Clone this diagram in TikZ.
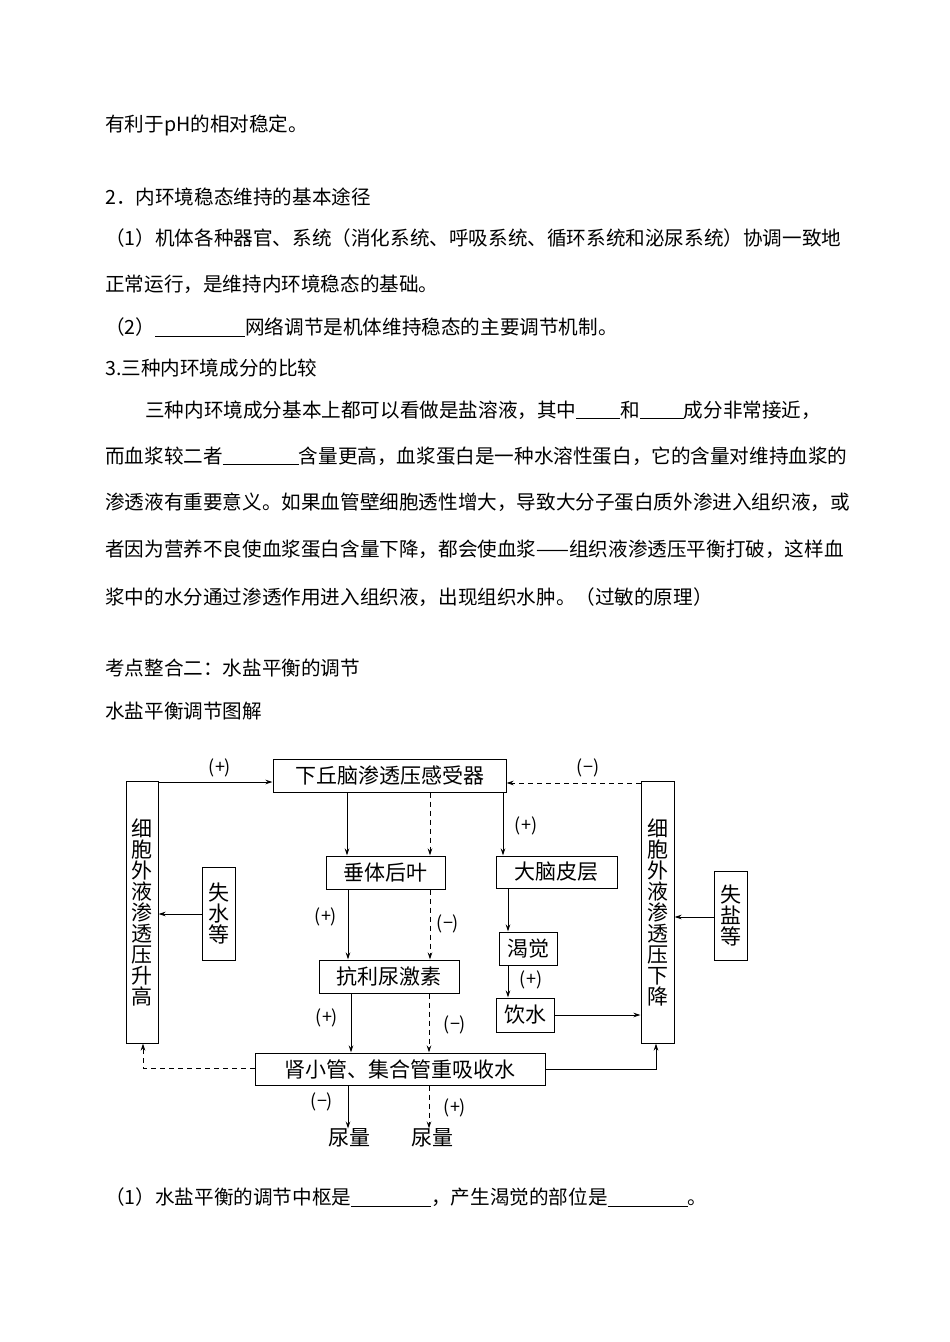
\documentclass[tikz,border=0pt]{standalone}
\usepackage{fontspec}
\setmainfont{Noto Sans CJK SC}
\usetikzlibrary{arrows.meta}
\begin{document}
\begin{tikzpicture}[x=1pt,y=-1pt,
  txt/.style={anchor=west,inner sep=0pt,font=\fontsize{19.6}{22}\selectfont},
  bx/.style={draw,line width=1pt,inner sep=0pt,font=\fontsize{21}{24}\selectfont},
  lab/.style={inner sep=0pt,font=\fontsize{18}{20}\selectfont},
  ar/.style={line width=1pt,-{Stealth[length=7pt,width=4.5pt]}},
  dar/.style={ar,dashed,dash pattern=on 5pt off 4pt}]
\fill[white] (0,0) rectangle (950,1342);
\node[txt] (t1) at (105,125) {有利于pH的相对稳定。};
\node[txt] (t2) at (105,197) {2．内环境稳态维持的基本途径};
\node[txt] (t3) at (105,238) {（1）机体各种器官、系统（消化系统、呼吸系统、循环系统和泌尿系统）协调一致地};
\node[txt] (t4) at (105,284) {正常运行，是维持内环境稳态的基础。};
\node[txt] (t5) at (105,327) {（2）\underline{\hspace{90pt}}网络调节是机体维持稳态的主要调节机制。};
\node[txt] (t6) at (105,368) {3.三种内环境成分的比较};
\node[txt] (t7) at (145,410) {三种内环境成分基本上都可以看做是盐溶液，其中\underline{\hspace{44pt}}和\underline{\hspace{44pt}}成分非常接近，};
\node[txt] (t8) at (105,456) {而血浆较二者\underline{\hspace{76pt}}含量更高，血浆蛋白是一种水溶性蛋白，它的含量对维持血浆的};
\node[txt] (t9) at (105,502) {渗透液有重要意义。如果血管壁细胞透性增大，导致大分子蛋白质外渗进入组织液，或};
\node[txt] (t10) at (105,549) {者因为营养不良使血浆蛋白含量下降，都会使血浆——组织液渗透压平衡打破，这样血};
\node[txt] (t11) at (105,597) {浆中的水分通过渗透作用进入组织液，出现组织水肿。（过敏的原理）};
\node[txt] (t12) at (105,668) {考点整合二：水盐平衡的调节};
\node[txt] (t13) at (105,711) {水盐平衡调节图解};
\node[txt] (t14) at (105,1197) {（1）水盐平衡的调节中枢是\underline{\hspace{80pt}}，产生渴觉的部位是\underline{\hspace{80pt}}。};
% boxes
\node[bx,minimum width=233pt,minimum height=33pt] (hyp) at (389.5,775.5) {下丘脑渗透压感受器};
\node[bx,minimum width=32pt,minimum height=262pt,align=center] (L) at (142,912) {细\\[-3pt]胞\\[-3pt]外\\[-3pt]液\\[-3pt]渗\\[-3pt]透\\[-3pt]压\\[-3pt]升\\[-3pt]高};
\node[bx,minimum width=33pt,minimum height=93pt,align=center] (sw) at (218.5,913.5) {失\\[-3pt]水\\[-3pt]等};
\node[bx,minimum width=119pt,minimum height=33pt] (ct) at (385.5,872.5) {垂体后叶};
\node[bx,minimum width=140pt,minimum height=33pt] (adh) at (389,976.5) {抗利尿激素};
\node[bx,minimum width=290pt,minimum height=32pt] (kid) at (400,1069) {肾小管、集合管重吸收水};
\node[bx,minimum width=121pt,minimum height=32pt] (db) at (556.5,872) {大脑皮层};
\node[bx,minimum width=58pt,minimum height=33pt] (ke) at (528,948.5) {渴觉};
\node[bx,minimum width=58pt,minimum height=34pt] (ys) at (525,1015) {饮水};
\node[bx,minimum width=33pt,minimum height=262pt,align=center] (R) at (657.5,912) {细\\[-3pt]胞\\[-3pt]外\\[-3pt]液\\[-3pt]渗\\[-3pt]透\\[-3pt]压\\[-3pt]下\\[-3pt]降};
\node[bx,minimum width=33pt,minimum height=89pt,align=center] (sy) at (730.5,915.5) {失\\[-3pt]盐\\[-3pt]等};
\node[inner sep=0pt,font=\fontsize{21}{24}\selectfont] (u1) at (349,1138) {尿量};
\node[inner sep=0pt,font=\fontsize{21}{24}\selectfont] (u2) at (432,1138) {尿量};
% connectors
\draw[ar] (L.north east |- 0,782) -- (hyp.west |- 0,782);
\draw[dar] (R.north west |- 0,783) -- (hyp.east |- 0,783);
\draw[ar] (hyp.south -| 347,0) -- (ct.north -| 347,0);
\draw[dar] (hyp.south -| 430,0) -- (ct.north -| 430,0);
\draw[ar] (hyp.south -| 503,0) -- (db.north -| 503,0);
\draw[ar] (ct.south -| 348,0) -- (adh.north -| 348,0);
\draw[dar] (ct.south -| 430,0) -- (adh.north -| 430,0);
\draw[ar] (adh.south -| 351,0) -- (kid.north -| 351,0);
\draw[dar] (adh.south -| 429,0) -- (kid.north -| 429,0);
\draw[ar] (kid.south -| 348,0) -- (u1.north -| 348,0);
\draw[dar] (kid.south -| 429,0) -- (u2.north -| 429,0);
\draw[ar] (db.south -| 508,0) -- (ke.north -| 508,0);
\draw[ar] (ke.south -| 508,0) -- (ys.north -| 508,0);
\draw[ar] (ys.east) -- (ys.east -| R.west);
\draw[ar] (kid.east) -| (R.south -| 656,0);
\draw[dar] (kid.west |- 0,1068) -| (L.south -| 143,0);
\draw[ar] (sw.west |- 0,914) -- (L.east |- 0,914);
\draw[ar] (sy.west |- 0,917) -- (R.east |- 0,917);
% labels
\node[lab] (l1) at (220,768) {(+)};
\node[lab] (l2) at (588,768) {(−)};
\node[lab] (l3) at (526,826) {(+)};
\node[lab] (l4) at (326,917) {(+)};
\node[lab] (l5) at (448,924) {(−)};
\node[lab] (l6) at (327,1018) {(+)};
\node[lab] (l7) at (455,1025) {(−)};
\node[lab] (l8) at (322,1102) {(−)};
\node[lab] (l9) at (455,1108) {(+)};
\node[lab] (l10) at (531,980) {(+)};
\end{tikzpicture}
\end{document}
